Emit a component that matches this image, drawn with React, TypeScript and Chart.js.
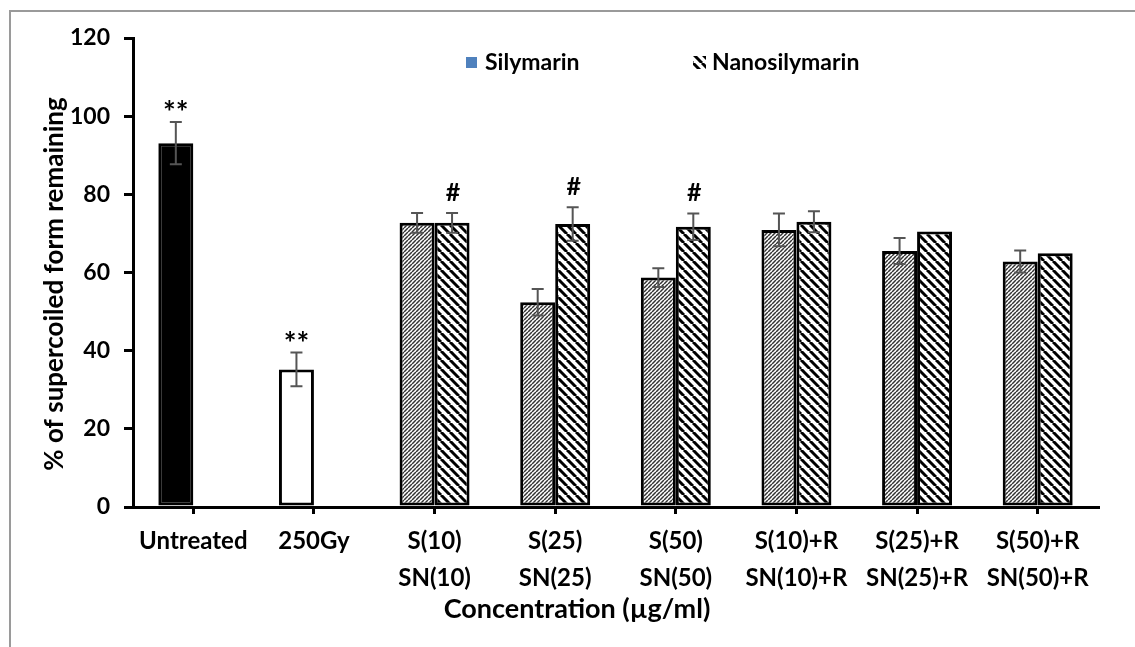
import React, { useEffect, useRef } from 'react';
import { Chart, registerables } from 'chart.js';

Chart.register(...registerables);

const categories: (string | string[])[] = [
  'Untreated',
  '250Gy',
  ['S(10)', 'SN(10)'],
  ['S(25)', 'SN(25)'],
  ['S(50)', 'SN(50)'],
  ['S(10)+R', 'SN(10)+R'],
  ['S(25)+R', 'SN(25)+R'],
  ['S(50)+R', 'SN(50)+R'],
];

const silymarin = [93.1, 35.2, 72.7, 52.4, 58.7, 70.9, 65.5, 62.8];
const silymarinErr = [5.4, 4.3, 2.5, 3.4, 2.4, 4.2, 3.3, 2.8];
const nanosilymarin = [null, null, 72.7, 72.4, 71.7, 73.0, 70.5, 64.9];
const nanosilymarinErr = [null, null, 2.5, 4.3, 3.4, 2.7, null, null];
const silymarinMarks = ['**', '**', '', '', '', '', '', ''];
const nanosilymarinMarks = ['', '', '#', '#', '#', '', '', ''];

const seriesNames = ['Silymarin', 'Nanosilymarin'];
const yMin = 0;
const yMax = 120;
const yStep = 20;
const yTitle = '% of supercoiled form remaining';
const xTitle = 'Concentration (\u00b5g/ml)';

const FONT = 'Lato';

export default function App() {
  const ref = useRef<HTMLCanvasElement | null>(null);

  useEffect(() => {
    const canvas = ref.current;
    if (!canvas) return;
    const ctx0 = canvas.getContext('2d')!;
    const fine = (() => {
      const c = document.createElement('canvas');
      c.width = 4; c.height = 4;
      const g = c.getContext('2d')!;
      g.fillStyle = '#ffffff'; g.fillRect(0, 0, 4, 4);
      g.strokeStyle = '#333'; g.lineWidth = 1.5;
      for (let k = -1; k <= 1; k++) { g.beginPath(); g.moveTo(k * 4, 4); g.lineTo(k * 4 + 4, 0); g.stroke(); }
      return ctx0.createPattern(c, 'repeat')!;
    })();
    const wide = (() => {
      const s = 9;
      const c = document.createElement('canvas');
      c.width = s; c.height = s;
      const g = c.getContext('2d')!;
      g.fillStyle = '#ffffff'; g.fillRect(0, 0, s, s);
      g.strokeStyle = '#000'; g.lineWidth = 3;
      for (let k = -1; k <= 1; k++) { g.beginPath(); g.moveTo(k * s, 0); g.lineTo(k * s + s, s); g.stroke(); }
      return ctx0.createPattern(c, 'repeat')!;
    })();

    const silyFill = silymarin.map((_, i) => (i === 0 ? '#000000' : i === 1 ? '#ffffff' : fine));
    const nanoFill = nanosilymarin.map(() => wide);

    const overlay = {
      id: 'overlay',
      beforeDraw(chart: any) {
        const c = chart.ctx;
        c.save();
        c.strokeStyle = '#9a9a9a';
        c.lineWidth = 2;
        c.beginPath();
        c.moveTo(10, 647);
        c.lineTo(10, 11);
        c.lineTo(1135, 11);
        c.stroke();
        c.restore();
      },
      afterDatasetsDraw(chart: any) {
        const c = chart.ctx;
        const ys = chart.scales.y;
        const errs = [silymarinErr, nanosilymarinErr];
        const vals = [silymarin, nanosilymarin];
        const marks = [silymarinMarks, nanosilymarinMarks];
        c.save();
        for (let d = 0; d < 2; d++) {
          const meta = chart.getDatasetMeta(d);
          meta.data.forEach((bar: any, i: number) => {
            const v = vals[d][i];
            if (v === null || v === undefined) return;
            const e = errs[d][i];
            let topY = ys.getPixelForValue(v);
            if (e) {
              const yt = ys.getPixelForValue(v + e);
              const yb = ys.getPixelForValue(v - e);
              c.strokeStyle = '#555555';
              c.lineWidth = 2;
              c.beginPath();
              c.moveTo(bar.x, yt); c.lineTo(bar.x, yb);
              c.moveTo(bar.x - 6, yt); c.lineTo(bar.x + 6, yt);
              c.moveTo(bar.x - 6, yb); c.lineTo(bar.x + 6, yb);
              c.stroke();
              topY = yt;
            }
            const m = marks[d][i];
            if (m) {
              c.fillStyle = '#000';
              c.textAlign = 'center';
              c.textBaseline = 'alphabetic';
              if (m === '#') {
                c.font = `bold 25px ${FONT}`;
                c.fillText(m, bar.x + 1, topY - 12);
              } else {
                c.font = `bold 30px ${FONT}`;
                c.fillText(m, bar.x, topY + 1);
              }
            }
          });
        }
        c.restore();
      },
      afterDraw(chart: any) {
        const c = chart.ctx;
        c.save();
        c.fillStyle = '#000';
        c.font = `bold 27px ${FONT}`;
        c.textAlign = 'center';
        c.textBaseline = 'middle';
        c.fillText(xTitle, 577, 609);
        c.font = `bold 26px ${FONT}`;
        c.save();
        c.translate(55, 284);
        c.rotate(-Math.PI / 2);
        c.fillText(yTitle, 0, 0);
        c.restore();
        // legend
        c.textAlign = 'left';
        c.font = `bold 23px ${FONT}`;
        c.fillStyle = '#4F81BD';
        c.fillRect(466, 57, 11, 11);
        c.fillStyle = '#000';
        c.fillText(seriesNames[0], 485, 63);
        c.fillStyle = wide;
        c.fillRect(693, 56, 13, 13);
        c.fillStyle = '#000';
        c.fillText(seriesNames[1], 712, 63);
        c.restore();
      },
    };

    const chart = new Chart(canvas, {
      type: 'bar',
      data: {
        labels: categories as any,
        datasets: [
          {
            label: seriesNames[0],
            data: silymarin,
            backgroundColor: silyFill as any,
            borderColor: '#000',
            borderWidth: 3,
            borderSkipped: false,
          },
          {
            label: seriesNames[1],
            data: nanosilymarin as any,
            backgroundColor: nanoFill as any,
            borderColor: '#000',
            borderWidth: 3,
            borderSkipped: false,
          },
        ],
      },
      options: {
        responsive: false,
        animation: false,
        devicePixelRatio: 1,
        categoryPercentage: 0.58,
        barPercentage: 1,
        layout: { padding: { top: 38, right: 37, left: 0, bottom: 0 } },
        plugins: { legend: { display: false }, tooltip: { enabled: false }, title: { display: false } },
        scales: {
          x: {
            type: 'category',
            offset: true,
            afterFit: (s: any) => { s.height = 140; },
            grid: { display: true, drawOnChartArea: false, drawTicks: true, tickLength: 7, offset: false, color: '#000', lineWidth: 3 },
            border: { display: true, color: '#000', width: 3 },
            ticks: {
              color: '#000',
              font: { family: FONT, size: 24, weight: 'bold', lineHeight: '37px' },
              padding: 9,
              maxRotation: 0,
              autoSkip: false,
            },
          },
          y: {
            min: yMin,
            max: yMax,
            afterFit: (s: any) => { s.width = 133; },
            grid: { display: true, drawOnChartArea: false, drawTicks: true, tickLength: 9, color: '#000', lineWidth: 3 },
            border: { display: true, color: '#000', width: 3 },
            ticks: {
              stepSize: yStep,
              color: '#000',
              font: { family: FONT, size: 23, weight: 'bold' },
              padding: 14,
            },
          },
        },
      },
      plugins: [overlay],
    } as any);
    return () => chart.destroy();
  }, []);

  return (
    <div style={{ position: 'fixed', left: 0, top: 0, width: 1135, height: 647, background: '#fff' }}>
      <canvas ref={ref} width={1135} height={647} style={{ display: 'block', width: 1135, height: 647 }} />
    </div>
  );
}
